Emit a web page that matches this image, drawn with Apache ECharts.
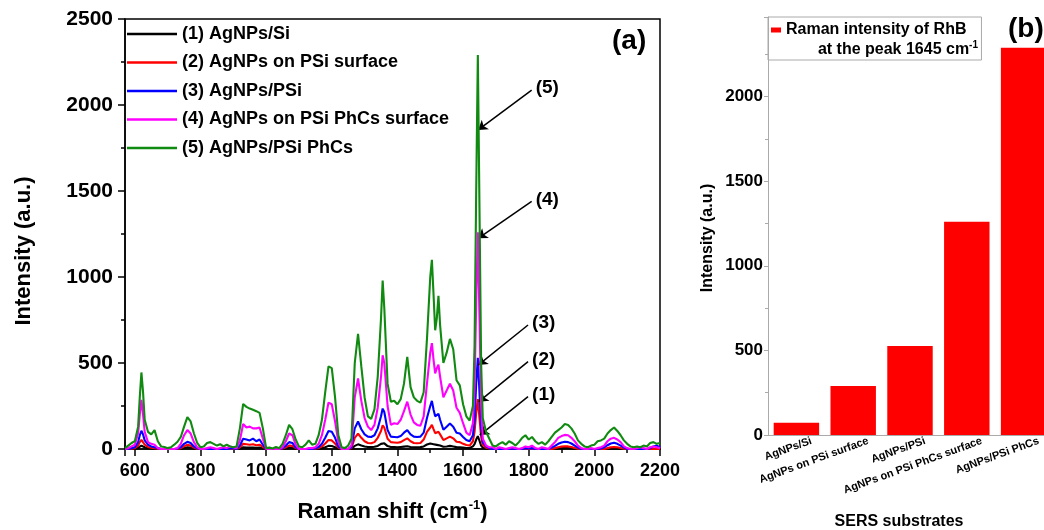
<!DOCTYPE html>
<html>
<head>
<meta charset="utf-8">
<title>SERS spectra of RhB</title>
<script src="https://cdn.jsdelivr.net/npm/echarts@6/dist/echarts.min.js"></script>
<style>
  html, body { margin: 0; padding: 0; background: #fff; }
  #main { width: 1044px; height: 530px; }
</style>
</head>
<body>
<div id="main"></div>
<script>
// Raman shift (cm-1), shared by the five spectra
const shift = [
  570, 580, 590, 600, 610, 615, 620, 625, 630, 640, 650, 660, 670, 680, 690, 700,
  710, 720, 730, 740, 750, 760, 770, 780, 790, 800, 810, 820, 830, 840, 850, 860, 870, 880, 890, 900,
  910, 920, 930, 940, 950, 960, 970, 980, 990, 1000,
  1010, 1020, 1030, 1040, 1050, 1060, 1070, 1080, 1090, 1100,
  1110, 1120, 1130, 1140, 1150, 1160, 1170, 1180, 1190, 1200, 1210, 1220, 1230, 1240, 1250,
  1260, 1270, 1280, 1290, 1300, 1310, 1320, 1330, 1340, 1350, 1355,
  1360, 1370, 1380, 1390, 1400, 1410, 1420, 1430, 1440, 1450, 1460, 1470, 1480, 1490,
  1500, 1505, 1510, 1515, 1520, 1525, 1530, 1540, 1550, 1560, 1570, 1580, 1590, 1600, 1610, 1620, 1630,
  1635, 1640, 1645, 1650, 1655, 1660, 1670, 1680, 1690, 1700,
  1710, 1720, 1730, 1740, 1750, 1760, 1770, 1780, 1790, 1800,
  1810, 1820, 1830, 1840, 1850, 1860, 1870, 1880, 1890, 1900,
  1910, 1920, 1930, 1940, 1950, 1960, 1970, 1980, 1990, 2000,
  2010, 2020, 2030, 2040, 2050, 2060, 2070, 2080, 2090, 2100,
  2110, 2120, 2130, 2140, 2150, 2160, 2170, 2180, 2190, 2200
]

// (1) AgNPs/Si
const agSi = [
  0, 0, 0, 2, 8, 15, 19, 15, 10, 5, 3, 2, 0, 0, 0, 0,
  0, 0, 0, 2, 6, 10, 8, 3, 0, 0, 0, 0, 0, 0, 0, 0, 0, 0, 0, 0,
  0, 3, 10, 8, 8, 9, 7, 8, 4, 0,
  0, 0, 0, 0, 0, 4, 8, 7, 2, 0,
  0, 0, 0, 0, 0, 2, 5, 10, 18, 17, 10, 3, 0, 0, 0,
  2, 18, 27, 20, 15, 12, 11, 13, 18, 30, 37,
  33, 17, 12, 11, 10, 12, 14, 16, 12, 10, 10, 11, 15, 26,
  32, 35, 28, 22, 24, 25, 20, 13, 15, 18, 15, 11, 10, 8, 6, 6, 15,
  28, 55, 75, 48, 20, 8, 3, 0, 0, 0,
  0, 0, 0, 0, 0, 0, 0, 0, 0, 0,
  0, 0, 0, 0, 0, 0, 0, 0, 3, 5,
  6, 6, 4, 2, 0, 0, 0, 0, 0, 0,
  0, 0, 0, 0, 3, 4, 3, 0, 0, 0,
  0, 0, 0, 0, 0, 0, 0, 0, 0, 0
]

// (2) AgNPs on PSi surface
const agOnPSi = [
  0, 0, 2, 5, 20, 40, 53, 42, 25, 12, 8, 5, 2, 0, 0, 0,
  0, 0, 0, 5, 15, 25, 20, 8, 0, 0, 0, 0, 0, 0, 0, 0, 0, 0, 0, 2,
  0, 10, 30, 28, 25, 28, 22, 25, 12, 0,
  0, 0, 0, 0, 2, 10, 20, 18, 5, 0,
  0, 0, 0, 0, 2, 6, 15, 32, 52, 50, 32, 8, 0, 0, 0,
  5, 65, 90, 65, 45, 35, 33, 40, 65, 105, 138,
  125, 60, 40, 38, 36, 40, 52, 62, 45, 35, 33, 35, 55, 100,
  125, 140, 115, 92, 96, 100, 85, 52, 62, 72, 62, 42, 40, 30, 23, 20, 45,
  100, 210, 290, 180, 70, 25, 8, 3, 0, 0,
  0, 0, 0, 0, 0, 0, 0, 0, 0, 0,
  0, 0, 0, 0, 0, 0, 0, 5, 10, 14,
  16, 15, 12, 6, 2, 0, 0, 0, 0, 0,
  0, 0, 0, 5, 10, 12, 10, 6, 2, 0,
  0, 0, 0, 0, 0, 0, 0, 0, 0, 0
]

// (3) AgNPs/PSi
const agPSi = [
  0, 0, 5, 10, 40, 80, 106, 85, 50, 25, 15, 10, 5, 0, 0, 0,
  0, 0, 2, 10, 30, 42, 35, 15, 3, 0, 0, 0, 0, 0, 0, 0, 0, 0, 3, 5,
  0, 20, 60, 55, 50, 60, 45, 55, 25, 0,
  0, 0, 0, 0, 5, 20, 40, 35, 10, 0,
  0, 0, 0, 0, 5, 12, 30, 65, 105, 100, 65, 15, 0, 0, 0,
  10, 120, 160, 115, 85, 72, 70, 80, 120, 190, 235,
  215, 110, 72, 70, 68, 75, 95, 110, 85, 72, 70, 72, 95, 180,
  250, 280, 230, 190, 200, 205, 170, 112, 130, 148, 130, 95, 90, 70, 52, 45, 80,
  170, 380, 530, 330, 120, 40, 15, 5, 0, 0,
  0, 0, 0, 0, 3, 0, 0, 0, 5, 3,
  5, 0, 0, 0, 0, 0, 8, 18, 30, 38,
  42, 40, 32, 20, 8, 0, 0, 0, 0, 0,
  0, 3, 10, 22, 32, 36, 30, 20, 8, 0,
  0, 0, 0, 0, 0, 0, 5, 15, 20, 10
]

// (4) AgNPs on PSi PhCs surface
const agOnPhCs = [
  0, 5, 15, 25, 90, 200, 285, 200, 100, 40, 30, 25, 5, 0, 0, 0,
  0, 0, 5, 30, 80, 110, 90, 40, 10, 0, 0, 5, 10, 5, 0, 5, 10, 5, 15, 10,
  5, 50, 145, 125, 130, 120, 120, 125, 60, 0,
  0, 0, 0, 0, 10, 45, 90, 80, 25, 0,
  0, 0, 5, 5, 10, 30, 80, 170, 270, 260, 160, 40, 0, 0, 0,
  20, 300, 410, 280, 180, 130, 110, 140, 240, 420, 545,
  500, 250, 140, 150, 145, 170, 220, 275, 200, 155, 140, 135, 190, 380,
  560, 615, 520, 440, 470, 490, 420, 300, 340, 380, 340, 240, 210, 150, 95, 80, 150,
  350, 850, 1260, 760, 260, 60, 20, 10, 10, 0,
  10, 5, 0, 5, 10, 5, 0, 5, 15, 10,
  20, 5, 0, 10, 5, 0, 20, 40, 65, 75,
  82, 80, 65, 45, 20, 5, 0, 0, 5, 0,
  5, 10, 20, 45, 60, 65, 55, 40, 15, 5,
  0, 0, 5, 10, 5, 0, 10, 15, 10, 5
]

// (5) AgNPs/PSi PhCs
const agPhCs = [
  5, 20, 35, 45, 130, 300, 445, 330, 170, 100, 85, 110, 45, 15, 12, 5,
  10, 25, 42, 70, 130, 185, 160, 90, 35, 10, 15, 35, 40, 30, 20, 28, 15, 25, 15, 10,
  15, 120, 262, 245, 235, 228, 220, 210, 120, 5,
  8, 3, 12, 5, 30, 80, 140, 115, 55, 15,
  10, 25, 50, 25, 30, 80, 170, 330, 480, 470, 300, 80, 10, 5, 20,
  60, 500, 670, 480, 300, 190, 175, 230, 420, 760, 980,
  820, 380, 275, 280, 260, 290, 380, 535, 360, 300, 280, 270, 330, 640,
  1000, 1100, 900, 690, 760, 890, 720, 500, 560, 640, 580, 400, 370, 260, 190, 165, 250,
  600, 1500, 2290, 1400, 500, 180, 100, 60, 20, 15,
  30, 40, 25, 45, 35, 20, 40, 65, 80, 55,
  70, 45, 30, 40, 25, 45, 70, 95, 110, 125,
  145, 140, 120, 90, 50, 30, 15, 10, 20, 25,
  45, 50, 60, 90, 110, 125, 105, 80, 50, 30,
  15, 10, 15, 10, 20, 15, 35, 40, 30, 35
]

const spectraNames = [
  '(1) AgNPs/Si',
  '(2) AgNPs on PSi surface',
  '(3) AgNPs/PSi',
  '(4) AgNPs on PSi PhCs surface',
  '(5) AgNPs/PSi PhCs'
]
const spectraColors = ['#000000', '#ff0000', '#0000ff', '#ff00ff', '#118a11']

// arrows pointing at the 1645 cm-1 peak (data units)
const arrowLabels = ['(5)', '(4)', '(3)', '(2)', '(1)']
const arrowFrom = [[1809, 2087], [1809, 1440], [1798, 721], [1798, 508], [1798, 304]]
const arrowTo = [[1646, 1855], [1646, 1225], [1646, 488], [1648, 275], [1651, 81]]

// panel (b)
const substrates = ['AgNPs/Si', 'AgNPs on PSi surface', 'AgNPs/PSi', 'AgNPs on PSi PhCs surface', 'AgNPs/PSi PhCs']
const peakIntensity = [73, 290, 526, 1260, 2289]

const font = "'Liberation Sans', Arial, sans-serif"
const plain = v => String(v)
const chart = echarts.init(document.getElementById('main'))

const spectra = [agSi, agOnPSi, agPSi, agOnPhCs, agPhCs]
const series = spectra.map((vals, i) => ({
  name: spectraNames[i],
  type: 'line',
  xAxisIndex: 0,
  yAxisIndex: 0,
  showSymbol: false,
  symbol: 'none',
  color: spectraColors[i],
  lineStyle: {width: 2.1, color: spectraColors[i]},
  data: shift.map((x, j) => [x, vals[j]]),
  z: 2 + i
}))

// arrows and their labels go on the last spectrum
series[4].markLine = {
  silent: true,
  symbol: ['none', 'arrow'],
  symbolSize: 9,
  lineStyle: {color: '#000', width: 1.5, type: 'solid'},
  label: {show: false},
  emphasis: {disabled: true},
  data: arrowFrom.map((p, i) => [{coord: p}, {coord: arrowTo[i]}])
}
series[4].markPoint = {
  silent: true,
  symbol: 'circle',
  symbolSize: 0,
  label: {
    show: true,
    position: 'right',
    distance: 4,
    offset: [0, -2],
    formatter: '{b}',
    color: '#000',
    fontFamily: font,
    fontSize: 19,
    fontWeight: 'bold'
  },
  data: arrowLabels.map((lb, i) => ({name: lb, coord: arrowFrom[i]}))
}

series.push({
  name: 'Raman intensity of RhB',
  type: 'bar',
  xAxisIndex: 1,
  yAxisIndex: 1,
  color: '#ff0000',
  barCategoryGap: '20%',
  data: peakIntensity
})

chart.setOption({
  animation: false,
  textStyle: {fontFamily: font},
  title: [
    {
      text: '(a)', left: 612, top: 27, padding: 0,
      textStyle: {fontSize: 28, fontWeight: 'bold', color: '#000', fontFamily: font}
    },
    {
      text: '(b)', left: 1008, top: 15, padding: 0,
      textStyle: {fontSize: 28, fontWeight: 'bold', color: '#000', fontFamily: font}
    },
    {
      text: '{t|at the peak 1645 cm}{s|-1}', right: 66, top: 40, padding: 0,
      textStyle: {
        rich: {
          t: {fontSize: 16, fontWeight: 'bold', color: '#000', fontFamily: font, lineHeight: 20},
          s: {fontSize: 10, fontWeight: 'bold', color: '#000', fontFamily: font, verticalAlign: 'top', lineHeight: 14}
        }
      }
    }
  ],
  legend: [
    {
      data: spectraNames,
      orient: 'vertical',
      left: 127,
      top: 24,
      padding: 0,
      icon: 'rect',
      itemWidth: 50,
      itemHeight: 2.5,
      itemGap: 8.5,
      selectedMode: false,
      textStyle: {fontSize: 18, fontWeight: 'bold', color: '#000', fontFamily: font, lineHeight: 20}
    },
    {
      data: ['Raman intensity of RhB'],
      orient: 'vertical',
      left: 768,
      top: 17,
      padding: [3, 15, 20, 3],
      icon: 'rect',
      itemWidth: 10,
      itemHeight: 5,
      selectedMode: false,
      borderColor: '#aaa',
      borderWidth: 1,
      textStyle: {fontSize: 16, fontWeight: 'bold', color: '#000', fontFamily: font, lineHeight: 20}
    }
  ],
  grid: [
    {left: 125, top: 19, width: 535, height: 430, outerBoundsMode: 'none', show: true, borderColor: '#000', borderWidth: 1.5},
    {left: 768, top: 17, width: 284, height: 418, outerBoundsMode: 'none'}
  ],
  xAxis: [
    {
      gridIndex: 0,
      type: 'value',
      min: 570,
      max: 2200,
      splitNumber: 8,
      name: '{n|Raman shift (cm}{s|-1}{n|)}',
      nameLocation: 'middle',
      nameGap: 50,
      nameTextStyle: {
        rich: {
          n: {fontSize: 22, fontWeight: 'bold', color: '#000', fontFamily: font, lineHeight: 26},
          s: {fontSize: 13, fontWeight: 'bold', color: '#000', fontFamily: font, verticalAlign: 'top', lineHeight: 16}
        }
      },
      axisLine: {lineStyle: {color: '#000', width: 1.5}},
      axisTick: {length: 7, lineStyle: {color: '#000', width: 1.5}},
      minorTick: {show: true, splitNumber: 2, length: 4, lineStyle: {color: '#000', width: 1.5}},
      splitLine: {show: false},
      axisLabel: {showMinLabel: false, formatter: plain, margin: 13, fontSize: 18, fontWeight: 'bold', color: '#000', fontFamily: font}
    },
    {
      gridIndex: 1,
      type: 'category',
      data: substrates,
      name: 'SERS substrates',
      nameLocation: 'middle',
      nameGap: 79,
      nameTextStyle: {fontSize: 16, fontWeight: 'bold', color: '#000', fontFamily: font, padding: [0, 22, 0, 0]},
      axisLine: {lineStyle: {color: '#aaa', width: 1}},
      axisTick: {length: 4, lineStyle: {color: '#aaa'}},
      axisLabel: {
        interval: 0,
        rotate: 20,
        margin: 11,
        padding: [0, -16, 0, 0],
        fontSize: 11,
        fontWeight: 'bold',
        color: '#000',
        fontFamily: font
      }
    }
  ],
  yAxis: [
    {
      gridIndex: 0,
      type: 'value',
      min: 0,
      max: 2500,
      interval: 500,
      name: 'Intensity (a.u.)',
      nameLocation: 'middle',
      nameGap: 90,
      nameTextStyle: {fontSize: 22, fontWeight: 'bold', color: '#000', fontFamily: font, padding: [0, 34, 0, 0]},
      axisLine: {show: true, lineStyle: {color: '#000', width: 1.5}},
      axisTick: {show: true, length: 7, lineStyle: {color: '#000', width: 1.5}},
      minorTick: {show: true, splitNumber: 2, length: 4, lineStyle: {color: '#000', width: 1.5}},
      splitLine: {show: false},
      axisLabel: {formatter: plain, margin: 12, fontSize: 21, fontWeight: 'bold', color: '#000', fontFamily: font}
    },
    {
      gridIndex: 1,
      type: 'value',
      min: 0,
      max: 2470,
      interval: 500,
      name: 'Intensity (a.u.)',
      nameLocation: 'middle',
      nameGap: 52,
      nameTextStyle: {fontSize: 16, fontWeight: 'bold', color: '#000', fontFamily: font, padding: [0, 24, 0, 0]},
      axisLine: {show: true, lineStyle: {color: '#aaa', width: 1}},
      axisTick: {show: true, length: 4, lineStyle: {color: '#aaa'}},
      minorTick: {show: true, splitNumber: 2, length: 3, lineStyle: {color: '#aaa'}},
      splitLine: {show: false},
      axisLabel: {showMaxLabel: false, formatter: plain, margin: 5, fontSize: 17, fontWeight: 'bold', color: '#000', fontFamily: font}
    }
  ],
  series: series
})
</script>
</body>
</html>
